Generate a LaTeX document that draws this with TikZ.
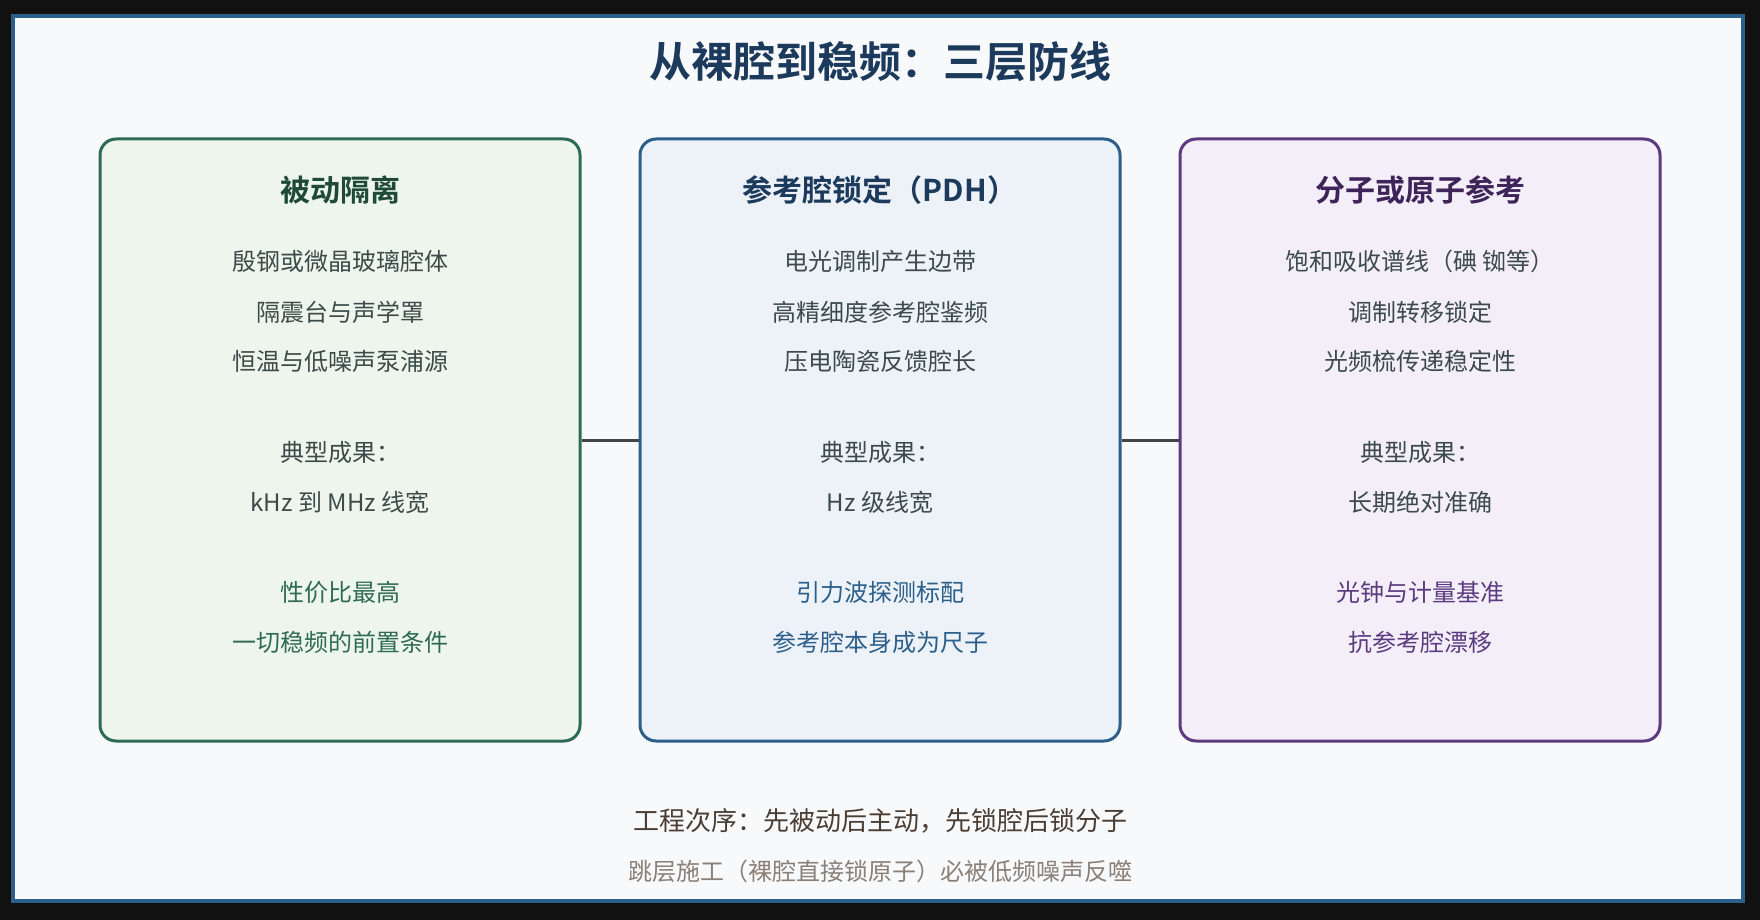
\documentclass[tikz,border=0pt]{standalone}
\usepackage{fontspec}
\setmainfont{Noto Sans CJK SC}
\newfontfamily\cjkb{Noto Sans CJK SC Bold}
\begin{document}
\begin{tikzpicture}[x=1pt,y=-1pt,
 box/.style={draw, line width=3pt, rounded corners=16pt},
 ttl/.style={font=\cjkb\fontsize{30}{34}\selectfont},
 body/.style={font=\fontsize{24}{28}\selectfont, text=bodyc},
 conn/.style={draw=linec, line width=3pt}]
\definecolor{bg}{HTML}{111111}
\definecolor{paper}{HTML}{F8F9FB}
\definecolor{frame}{HTML}{2C5F8A}
\definecolor{gS}{HTML}{2E6B55}\definecolor{gF}{HTML}{EEF5EC}\definecolor{gT}{HTML}{1F4A3A}
\definecolor{bS}{HTML}{2C5F8A}\definecolor{bF}{HTML}{EDF1F8}\definecolor{bT}{HTML}{1C3A5C}
\definecolor{pS}{HTML}{5B3A7F}\definecolor{pF}{HTML}{F3EEF8}\definecolor{pT}{HTML}{3E2458}
\definecolor{bodyc}{HTML}{3C4B4A}
\definecolor{linec}{HTML}{444444}
\definecolor{foot}{HTML}{4A3D33}
\definecolor{sub}{HTML}{8A8078}
\useasboundingbox (0,0) rectangle (1760,920);
\fill[bg] (0,0) rectangle (1760,920);
\draw[frame, fill=paper, line width=4pt] (13,16) rectangle (1743,901);
\node[font=\cjkb\fontsize{42}{46}\selectfont, text=bT] (title) at (880,62) {从裸腔到稳频：三层防线};
\node[box, draw=gS, fill=gF, minimum width=480pt, minimum height=602pt] (b1) at (340,440) {};
\node[box, draw=bS, fill=bF, minimum width=480pt, minimum height=602pt] (b2) at (880,440) {};
\node[box, draw=pS, fill=pF, minimum width=480pt, minimum height=602pt] (b3) at (1420,440) {};
\draw[conn] (b1.east) -- (b2.west);
\draw[conn] (b2.east) -- (b3.west);
% box 1
\node[ttl, text=gT] (h1) at (340,190) {被动隔离};
\node[body] (a1) at (340,261) {殷钢或微晶玻璃腔体};
\node[body] (a2) at (340,312) {隔震台与声学罩};
\node[body] (a3) at (340,361) {恒温与低噪声泵浦源};
\node[body] (a4) at (340,452) {典型成果：};
\node[body] (a5) at (340,502) {kHz 到 MHz 线宽};
\node[body, text=gS] (a6) at (340,592) {性价比最高};
\node[body, text=gS] (a7) at (340,642) {一切稳频的前置条件};
% box 2
\node[ttl, text=bT] (h2) at (880,190) {参考腔锁定（PDH）};
\node[body] (c1) at (880,261) {电光调制产生边带};
\node[body] (c2) at (880,312) {高精细度参考腔鉴频};
\node[body] (c3) at (880,361) {压电陶瓷反馈腔长};
\node[body] (c4) at (880,452) {典型成果：};
\node[body] (c5) at (880,502) {Hz 级线宽};
\node[body, text=bS] (c6) at (880,592) {引力波探测标配};
\node[body, text=bS] (c7) at (880,642) {参考腔本身成为尺子};
% box 3
\node[ttl, text=pT] (h3) at (1420,190) {分子或原子参考};
\node[body] (d1) at (1420,261) {饱和吸收谱线（碘 铷等）};
\node[body] (d2) at (1420,312) {调制转移锁定};
\node[body] (d3) at (1420,361) {光频梳传递稳定性};
\node[body] (d4) at (1420,452) {典型成果：};
\node[body] (d5) at (1420,502) {长期绝对准确};
\node[body, text=pS] (d6) at (1420,592) {光钟与计量基准};
\node[body, text=pS] (d7) at (1420,642) {抗参考腔漂移};
% footer
\node[font=\fontsize{26}{30}\selectfont, text=foot] (f1) at (880,821) {工程次序：先被动后主动，先锁腔后锁分子};
\node[font=\fontsize{24}{28}\selectfont, text=sub] (f2) at (880,871) {跳层施工（裸腔直接锁原子）必被低频噪声反噬};
\end{tikzpicture}
\end{document}
